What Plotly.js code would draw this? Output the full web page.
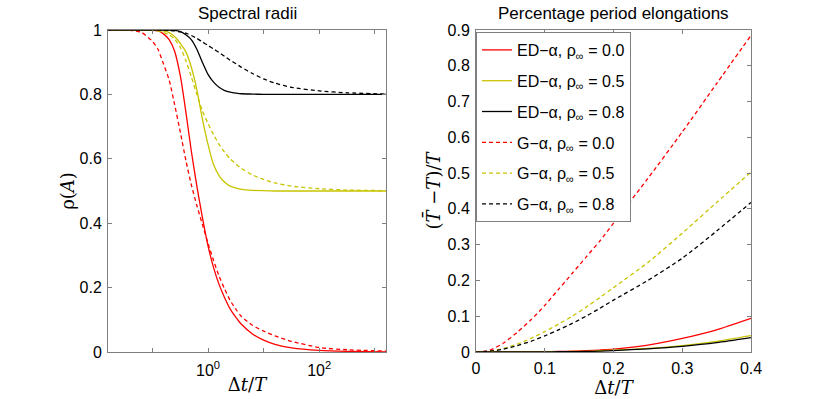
<!DOCTYPE html>
<html>
<head>
<meta charset="utf-8">
<script src="https://cdn.plot.ly/plotly-3.0.1.min.js"></script>
<style>
  body { margin: 0; background: #fff; }
  #chart { width: 830px; height: 399px; }
</style>
</head>
<body>
<div id="chart"></div>
<script>
// Left panel: spectral radii vs dt/T (log axis)
const dtLog = [0.0159, 0.04, 0.063, 0.1, 0.126, 0.158, 0.2, 0.25, 0.32, 0.4, 0.5, 0.63, 0.79,
               1, 1.26, 1.58, 2, 2.5, 3.2, 4, 6.3, 10, 16, 32, 100, 320, 1590];

const rhoEd00 = [1, 1, 1, 0.999, 0.997, 0.988, 0.97, 0.935, 0.855, 0.745, 0.625, 0.515, 0.42,
                 0.33, 0.262, 0.21, 0.168, 0.134, 0.107, 0.086, 0.056, 0.037, 0.024, 0.013, 0.005, 0.002, 0.0005];
const rhoEd05 = [1, 1, 1, 1, 0.999, 0.997, 0.992, 0.98, 0.958, 0.932, 0.885, 0.815, 0.725,
                 0.645, 0.582, 0.548, 0.527, 0.515, 0.509, 0.505, 0.502, 0.501, 0.5, 0.5, 0.5, 0.5, 0.5];
const rhoEd08 = [1, 1, 1, 1, 1, 1, 1, 0.999, 0.995, 0.985, 0.97, 0.94, 0.9,
                 0.862, 0.838, 0.822, 0.812, 0.807, 0.804, 0.802, 0.801, 0.8, 0.8, 0.8, 0.8, 0.8, 0.8];
const rhoG00 = [1, 0.999, 0.993, 0.965, 0.94, 0.895, 0.845, 0.77, 0.68, 0.595, 0.52, 0.455, 0.397,
                0.338, 0.284, 0.236, 0.195, 0.16, 0.132, 0.11, 0.083, 0.065, 0.05, 0.033, 0.014, 0.007, 0.003];
const rhoG05 = [1, 1, 1, 0.999, 0.997, 0.992, 0.985, 0.972, 0.945, 0.905, 0.855, 0.8, 0.75,
                0.71, 0.675, 0.645, 0.62, 0.6, 0.583, 0.57, 0.55, 0.536, 0.525, 0.515, 0.507, 0.503, 0.501];
const rhoG08 = [1, 1, 1, 1, 1, 1, 0.999, 0.997, 0.994, 0.99, 0.983, 0.974, 0.963,
                0.952, 0.941, 0.93, 0.918, 0.906, 0.895, 0.884, 0.865, 0.848, 0.835, 0.822, 0.811, 0.805, 0.801];

// Right panel: period elongation vs dt/T
const dtLin = [0, 0.02, 0.04, 0.06, 0.08, 0.1, 0.12, 0.14, 0.16, 0.18, 0.2, 0.25, 0.3, 0.35, 0.4];

const peEd00 = [0, 0, 0, 0, 0.0005, 0.001, 0.0015, 0.0025, 0.0035, 0.0055, 0.008, 0.019, 0.038, 0.062, 0.094];
const peEd05 = [0, 0, 0, 0, 0, 0.0005, 0.001, 0.0015, 0.002, 0.0035, 0.005, 0.01, 0.018, 0.03, 0.046];
const peEd08 = [0, 0, 0, 0, 0, 0.0004, 0.0007, 0.001, 0.0015, 0.0025, 0.004, 0.009, 0.016, 0.026, 0.04];
const peG00 = [0, 0.005, 0.025, 0.055, 0.09, 0.13, 0.175, 0.22, 0.265, 0.31, 0.36, 0.485, 0.615, 0.75, 0.885];
const peG05 = [0, 0.002, 0.01, 0.022, 0.038, 0.057, 0.078, 0.1, 0.125, 0.152, 0.18, 0.25, 0.332, 0.418, 0.503];
const peG08 = [0, 0.002, 0.008, 0.018, 0.03, 0.045, 0.062, 0.08, 0.1, 0.122, 0.145, 0.2, 0.262, 0.338, 0.418];

// Tick labels
const logTickVals = [1, 100];
const logTickText = ['10<sup>0</sup>', '10<sup>2</sup>'];
const logMinorVals = [0.1, 10, 1000];
const rhoTickVals = [0, 0.2, 0.4, 0.6, 0.8, 1];
const rhoTickText = ['0', '0.2', '0.4', '0.6', '0.8', '1'];
const linTickVals = [0, 0.1, 0.2, 0.3, 0.4];
const peTickVals = [0, 0.1, 0.2, 0.3, 0.4, 0.5, 0.6, 0.7, 0.8, 0.9];

const seriesNames = [
    'ED\u2212\u03b1, \u03c1<sub>\u221e</sub> = 0.0',
    'ED\u2212\u03b1, \u03c1<sub>\u221e</sub> = 0.5',
    'ED\u2212\u03b1, \u03c1<sub>\u221e</sub> = 0.8',
    'G\u2212\u03b1, \u03c1<sub>\u221e</sub> = 0.0',
    'G\u2212\u03b1, \u03c1<sub>\u221e</sub> = 0.5',
    'G\u2212\u03b1, \u03c1<sub>\u221e</sub> = 0.8'
];
const seriesColors = ['#ff0000', '#c8c400', '#000000', '#ff0000', '#c8c400', '#000000'];
const seriesDash = ['solid', 'solid', 'solid', '4px,3px', '4px,3px', '4px,3px'];

const SANS = 'Liberation Sans, Arial, sans-serif';
const SERIF = 'DejaVu Serif, Liberation Serif, serif';
const AXIS_GRAY = '#7f7f7f';

function makeTrace(x, y, i, axisSuffix, showLegend) {
    return {
        x: x,
        y: y,
        type: 'scatter',
        mode: 'lines',
        name: seriesNames[i],
        legendgroup: 'g' + i,
        showlegend: showLegend,
        xaxis: 'x' + axisSuffix,
        yaxis: 'y' + axisSuffix,
        line: { color: seriesColors[i], width: 1.3, dash: seriesDash[i], shape: 'spline', smoothing: 0.6 }
    };
}

const leftSeries = [rhoEd00, rhoEd05, rhoEd08, rhoG00, rhoG05, rhoG08];
const rightSeries = [peEd00, peEd05, peEd08, peG00, peG05, peG08];

const traces = [];
leftSeries.forEach((ys, i) => traces.push(makeTrace(dtLog, ys, i, '', false)));
rightSeries.forEach((ys, i) => traces.push(makeTrace(dtLin, ys, i, '2', true)));

function baseAxis() {
    return {
        showline: true,
        linecolor: AXIS_GRAY,
        linewidth: 1,
        mirror: 'allticks',
        ticks: 'inside',
        ticklen: 4,
        tickcolor: AXIS_GRAY,
        showgrid: false,
        zeroline: false,
        tickfont: { family: SANS, size: 16, color: '#000' }
    };
}

function axisTitle(text, standoff) {
    return { text: text, font: { family: SERIF, size: 18, color: '#000' }, standoff: standoff };
}

const layout = {
    width: 830,
    height: 399,
    margin: { l: 0, r: 0, t: 0, b: 0 },
    paper_bgcolor: '#fff',
    plot_bgcolor: '#fff',
    showlegend: true,
    legend: {
        x: 476 / 830, y: 1 - 32 / 399,
        xanchor: 'left', yanchor: 'top',
        bgcolor: '#fff',
        bordercolor: AXIS_GRAY,
        borderwidth: 1,
        font: { family: SANS, size: 16, color: '#000' },
        tracegroupgap: 7,
        itemwidth: 30
    },
    xaxis: Object.assign(baseAxis(), {
        domain: [108 / 830, 386 / 830],
        type: 'log',
        range: [Math.log10(0.0159), Math.log10(1590)],
        tickvals: logTickVals,
        ticktext: logTickText,
        ticklabelstandoff: 4,
        minor: { tickvals: logMinorVals, ticks: 'inside', ticklen: 4, tickcolor: AXIS_GRAY, showgrid: false },
        title: axisTitle('\u0394<i>t</i>/<i>T</i>', 0)
    }),
    yaxis: Object.assign(baseAxis(), {
        domain: [47 / 399, 369 / 399],
        range: [0, 1],
        tickvals: rhoTickVals,
        ticktext: rhoTickText,
        ticklabelstandoff: 2,
        title: axisTitle('\u03c1(<i>A</i>)', 0)
    }),
    xaxis2: Object.assign(baseAxis(), {
        domain: [476 / 830, 751 / 830],
        anchor: 'y2',
        range: [0, 0.4],
        tickvals: linTickVals,
        ticklabelstandoff: 2,
        title: axisTitle('\u0394<i>t</i>/<i>T</i>', 0)
    }),
    yaxis2: Object.assign(baseAxis(), {
        domain: [47 / 399, 369 / 399],
        anchor: 'x2',
        range: [0, 0.9],
        tickvals: peTickVals,
        ticklabelstandoff: 2,
        title: axisTitle('(<i>T\u0304</i> \u2212<i>T</i>)/<i>T</i>', 2)
    }),
    annotations: [
        {
            text: 'Spectral radii', xref: 'paper', yref: 'paper',
            x: 247 / 830, y: 1 - 2 / 399, xanchor: 'center', yanchor: 'top',
            showarrow: false, font: { family: SANS, size: 17, color: '#000' }
        },
        {
            text: 'Percentage period elongations', xref: 'paper', yref: 'paper',
            x: 613 / 830, y: 1 - 2 / 399, xanchor: 'center', yanchor: 'top',
            showarrow: false, font: { family: SANS, size: 17, color: '#000' }
        }
    ]
};

Plotly.newPlot('chart', traces, layout, { staticPlot: true, displayModeBar: false });
</script>
</body>
</html>
